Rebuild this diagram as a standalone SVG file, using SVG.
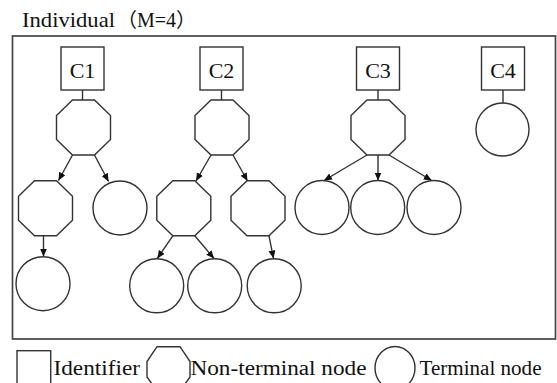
<svg xmlns="http://www.w3.org/2000/svg" width="557" height="383" viewBox="0 0 557 383">
<style>
.s{fill:#fff;stroke:#333;stroke-width:1.4}
.e{fill:none;stroke:#333;stroke-width:1.4}
.t{font-family:"Liberation Serif","Times New Roman","Noto Sans CJK SC",serif;fill:#111}
.lbl{font-size:22px;text-anchor:middle}
.lg{font-size:20px}
</style>
<defs>
<marker id="ah" markerUnits="userSpaceOnUse" markerWidth="9" markerHeight="8" refX="8" refY="3.5" orient="auto">
<path d="M0,0 L8,3.5 L0,7 z" fill="#111"/>
</marker>
<polygon id="oct" points="-11,-27.5 11,-27.5 27,-12 27,12 11,27.5 -11,27.5 -27,12 -27,-12"/>
</defs>
<rect x="0" y="0" width="557" height="383" fill="#fff"/>
<text class="t" x="22" y="27" font-size="21" textLength="93" lengthAdjust="spacingAndGlyphs">Individual</text>
<text class="t" x="117" y="27" font-size="20">（M=4）</text>
<rect id="frame" x="12.5" y="36" width="543" height="303" fill="none" stroke="#444" stroke-width="1.7"/>

<g id="connectors">
<line class="e" x1="82.5" y1="90" x2="82.5" y2="100"/>
<line class="e" x1="221.5" y1="90" x2="221.5" y2="100"/>
<line class="e" x1="378" y1="90" x2="378" y2="100"/>
<line class="e" x1="503" y1="90" x2="503" y2="103"/>
<line class="e" x1="72.5" y1="155" x2="58.5" y2="180.5" marker-end="url(#ah)"/>
<line class="e" x1="94.5" y1="155" x2="108.5" y2="181.5" marker-end="url(#ah)"/>
<line class="e" x1="43.5" y1="235.8" x2="43.5" y2="256.5" marker-end="url(#ah)"/>
<line class="e" x1="211" y1="155" x2="196" y2="181" marker-end="url(#ah)"/>
<line class="e" x1="233" y1="155" x2="247.5" y2="181" marker-end="url(#ah)"/>
<line class="e" x1="172.8" y1="235.8" x2="157.3" y2="258.5" marker-end="url(#ah)"/>
<line class="e" x1="194.8" y1="235.8" x2="214" y2="258.5" marker-end="url(#ah)"/>
<line class="e" x1="269" y1="235.8" x2="273.5" y2="258.5" marker-end="url(#ah)"/>
<line class="e" x1="367" y1="155" x2="324" y2="180.5" marker-end="url(#ah)"/>
<line class="e" x1="378" y1="155" x2="378" y2="180.5" marker-end="url(#ah)"/>
<line class="e" x1="389" y1="155" x2="431.7" y2="180.5" marker-end="url(#ah)"/>
</g>

<g id="C1">
<rect class="s" x="61" y="47" width="43" height="43"/>
<text class="t lbl" x="82.5" y="78">C1</text>
</g>
<g id="C2">
<rect class="s" x="200" y="47" width="43" height="43"/>
<text class="t lbl" x="221.5" y="78">C2</text>
</g>
<g id="C3">
<rect class="s" x="356.5" y="47" width="43" height="43"/>
<text class="t lbl" x="378" y="78">C3</text>
</g>
<g id="C4">
<rect class="s" x="481.5" y="47" width="43" height="43"/>
<text class="t lbl" x="503" y="78">C4</text>
</g>

<g id="n1"><use href="#oct" class="s" x="83.5" y="127.5"/></g>
<g id="n2"><use href="#oct" class="s" x="222" y="127.5"/></g>
<g id="n3"><use href="#oct" class="s" x="378" y="127.5"/></g>
<g id="n4"><circle class="s" cx="502.5" cy="129.5" r="26.5"/></g>

<g id="n1a"><use href="#oct" class="s" x="45.5" y="208.3"/></g>
<g id="n1b"><circle class="s" cx="120" cy="208" r="27"/></g>
<g id="n1c"><circle class="s" cx="43" cy="283.7" r="27"/></g>

<g id="n2a"><use href="#oct" class="s" x="183.8" y="208.3"/></g>
<g id="n2b"><use href="#oct" class="s" x="258" y="208.3"/></g>
<g id="n2c"><circle class="s" cx="156.7" cy="285.8" r="27"/></g>
<g id="n2d"><circle class="s" cx="214.7" cy="285.8" r="27"/></g>
<g id="n2e"><circle class="s" cx="274.2" cy="285.8" r="27"/></g>

<g id="n3a"><circle class="s" cx="322" cy="207.5" r="27"/></g>
<g id="n3b"><circle class="s" cx="377.7" cy="207.5" r="27"/></g>
<g id="n3c"><circle class="s" cx="434" cy="207.5" r="27"/></g>

<g id="legend">
<rect class="s" x="17" y="350.7" width="33.7" height="34"/>
<text class="t lg" x="53.5" y="375" textLength="86.5" lengthAdjust="spacingAndGlyphs">Identifier</text>
<polygon class="s" points="157,346.7 180,346.7 190,361.5 190,377 180,391 157,391 147,377 147,361.5"/>
<text class="t lg" x="190.5" y="375" textLength="176" lengthAdjust="spacingAndGlyphs">Non-terminal node</text>
<ellipse class="s" cx="395" cy="368" rx="20" ry="21.5"/>
<text class="t lg" x="419.5" y="375" textLength="122" lengthAdjust="spacingAndGlyphs">Terminal node</text>
</g>
</svg>
